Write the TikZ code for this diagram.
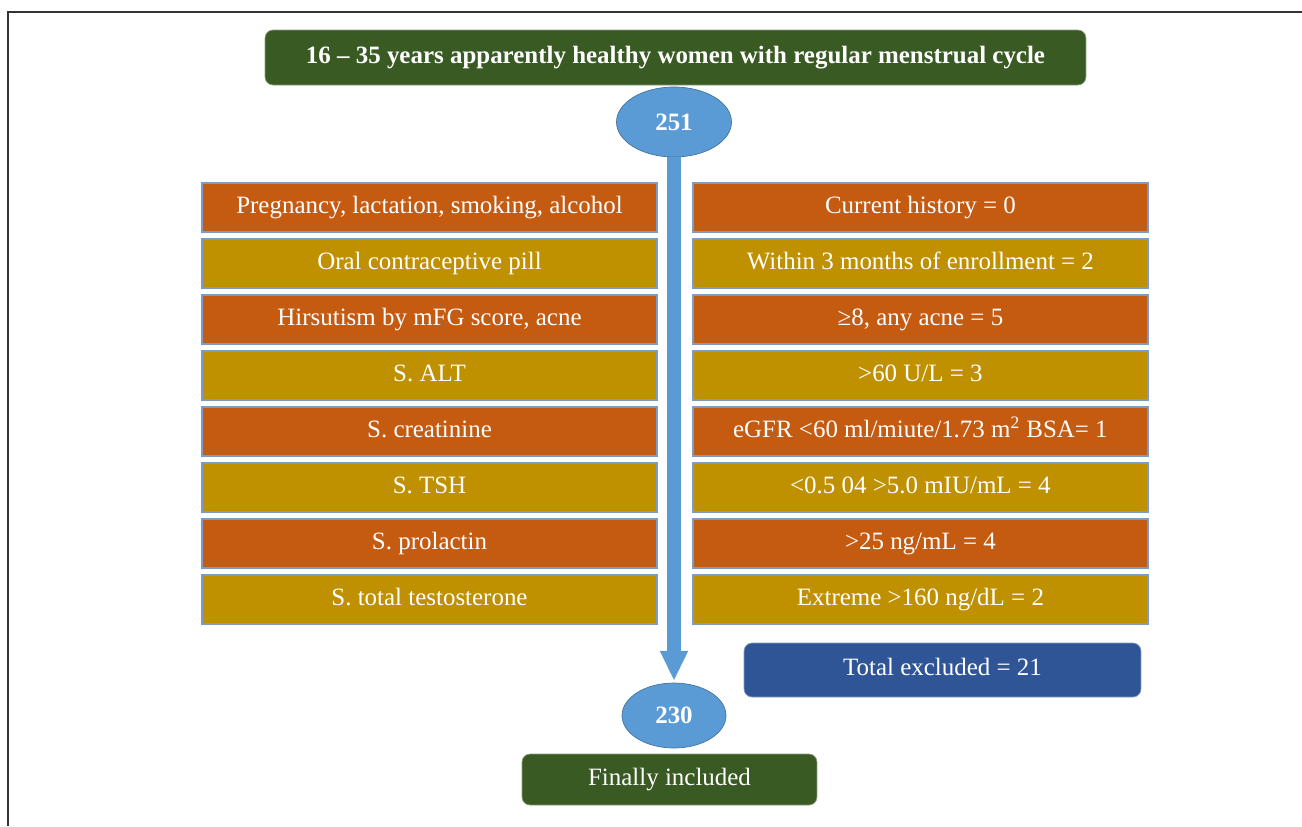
\documentclass[tikz,border=0pt]{standalone}
\usepackage{fontspec}
\setmainfont{Liberation Serif}
\usetikzlibrary{shapes.geometric,arrows.meta}

\definecolor{leafgreen}{HTML}{3A5A24}
\definecolor{rust}{HTML}{C55A11}
\definecolor{mustard}{HTML}{BF9000}
\definecolor{skyblue}{HTML}{5B9BD5}
\definecolor{navyblue}{HTML}{2F5597}
\definecolor{edgeblue}{HTML}{7B9CC6}

\begin{document}
\begin{tikzpicture}[x=0.02cm,y=-0.02cm,node distance=1.12cm,
                    font=\fontsize{14.2}{17}\selectfont]
  \tikzstyle{crit}=[draw=edgeblue,line width=0.8pt,text=white,
                    minimum width=9.1cm,minimum height=0.98cm,inner sep=0pt,
                    text height=0.9em,text depth=0.24em]
  \tikzstyle{oddrow}=[crit,fill=rust]
  \tikzstyle{evenrow}=[crit,fill=mustard]
  \tikzstyle{banner}=[rounded corners=0.16cm,fill=leafgreen,draw=leafgreen!60!white,
                      text=white,inner sep=0pt,text height=0.9em,text depth=0.24em]
  \tikzstyle{count}=[ellipse,fill=skyblue,draw=skyblue!75!black,text=white,
                     inner sep=0pt,font=\fontsize{14.2}{17}\selectfont\bfseries]

  \useasboundingbox (0,0) rectangle (1302,826);
  \draw[line width=1.4pt,black!80] (1302,12) -- (8,12) -- (8,826);

  \node[banner,minimum width=16.42cm,minimum height=1.1cm,
        font=\fontsize{14.2}{17}\selectfont\bfseries] (head) at (675.5,57.5)
        {16 -- 35 years apparently healthy women with regular menstrual cycle};
  \node[count,minimum width=2.3cm,minimum height=1.4cm] (n251) at (674,122) {251};

  % exclusion criteria
  \node[oddrow]  (l1) at (429.5,207.5) {Pregnancy, lactation, smoking, alcohol};
  \node[evenrow] (l2) [below of=l1] {Oral contraceptive pill};
  \node[oddrow]  (l3) [below of=l2] {Hirsutism by mFG score, acne};
  \node[evenrow] (l4) [below of=l3] {S. ALT};
  \node[oddrow]  (l5) [below of=l4] {S. creatinine};
  \node[evenrow] (l6) [below of=l5] {S. TSH};
  \node[oddrow]  (l7) [below of=l6] {S. prolactin};
  \node[evenrow] (l8) [below of=l7] {S. total testosterone};

  % numbers excluded
  \node[oddrow]  (r1) [right of=l1,node distance=9.82cm] {Current history = 0};
  \node[evenrow] (r2) [below of=r1] {Within 3 months of enrollment = 2};
  \node[oddrow]  (r3) [below of=r2] {≥8, any acne = 5};
  \node[evenrow] (r4) [below of=r3] {>60 U/L = 3};
  \node[oddrow]  (r5) [below of=r4] {eGFR <60 ml/miute/1.73 m\textsuperscript{2} BSA= 1};
  \node[evenrow] (r6) [below of=r5] {<0.5 04 >5.0 mIU/mL = 4};
  \node[oddrow]  (r7) [below of=r6] {>25 ng/mL = 4};
  \node[evenrow] (r8) [below of=r7] {Extreme >160 ng/dL = 2};

  \node[banner,fill=navyblue,draw=navyblue!60!white,minimum width=7.94cm,
        minimum height=1.08cm] (total) at (942.5,670) {Total excluded = 21};

  \node[count,minimum width=2.08cm,minimum height=1.3cm] (n230) at (674,715.5) {230};
  \node[banner,minimum width=5.9cm,minimum height=1.02cm] (final) at (669.5,779.5)
        {Finally included};

  \draw[draw=skyblue,line width=0.28cm,
        -{Triangle[width=0.52cm,length=0.6cm]},shorten >=1pt] (n251) -- (n230);
\end{tikzpicture}
\end{document}
